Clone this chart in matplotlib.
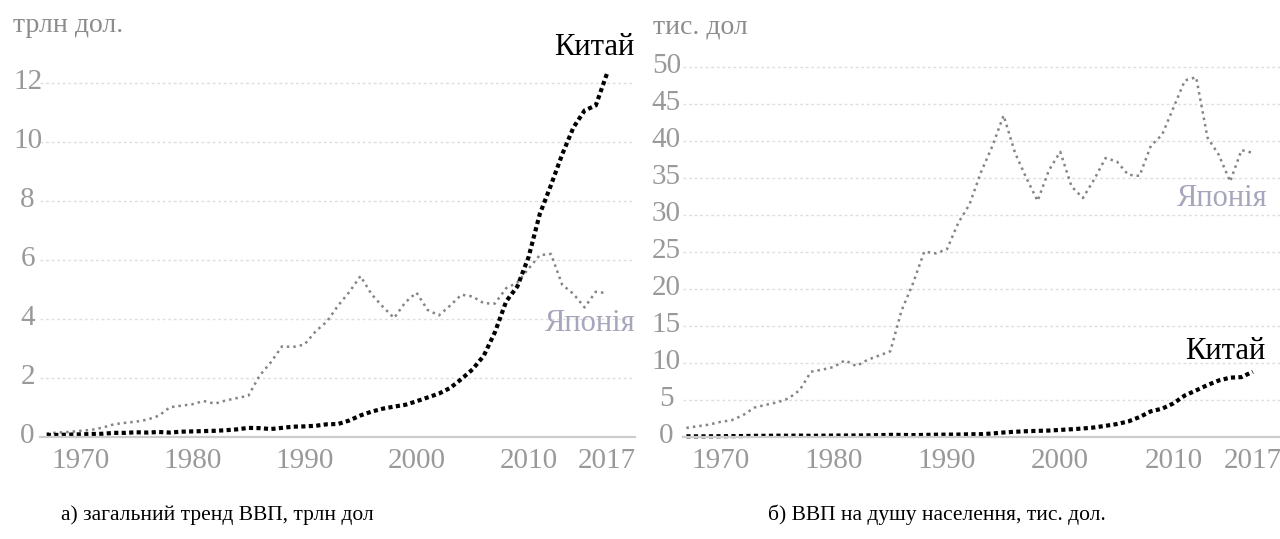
import matplotlib.pyplot as plt
import matplotlib.transforms as mtransforms
import numpy as np

years = np.arange(1967, 2018)

# ВВП, трлн дол.
gdp_china = [0.07, 0.07, 0.08, 0.09, 0.10, 0.11, 0.14, 0.14, 0.16, 0.15,
             0.17, 0.15, 0.18, 0.19, 0.20, 0.21, 0.23, 0.26, 0.31, 0.30,
             0.27, 0.31, 0.35, 0.36, 0.38, 0.43, 0.44, 0.56, 0.73, 0.86,
             0.96, 1.03, 1.09, 1.21, 1.34, 1.47, 1.66, 1.96, 2.29, 2.75,
             3.55, 4.59, 5.10, 6.09, 7.55, 8.53, 9.57, 10.48, 11.06, 11.23,
             12.31]
gdp_japan = [0.12, 0.15, 0.17, 0.21, 0.24, 0.32, 0.43, 0.48, 0.52, 0.59,
             0.72, 1.01, 1.06, 1.11, 1.22, 1.13, 1.24, 1.32, 1.40, 2.08,
             2.53, 3.07, 3.05, 3.13, 3.58, 3.91, 4.45, 4.91, 5.45, 4.83,
             4.41, 4.03, 4.56, 4.89, 4.30, 4.12, 4.45, 4.82, 4.76, 4.53,
             4.52, 5.04, 5.23, 5.70, 6.16, 6.20, 5.16, 4.85, 4.39, 4.92,
             4.87]

# ВВП на душу населення, тис. дол.
pc_china = [0.10, 0.09, 0.10, 0.11, 0.12, 0.13, 0.16, 0.16, 0.18, 0.17,
            0.19, 0.16, 0.18, 0.19, 0.20, 0.20, 0.22, 0.25, 0.29, 0.28,
            0.25, 0.28, 0.31, 0.32, 0.33, 0.37, 0.38, 0.47, 0.61, 0.71,
            0.78, 0.83, 0.87, 0.96, 1.05, 1.15, 1.29, 1.51, 1.75, 2.10,
            2.69, 3.47, 3.83, 4.55, 5.61, 6.30, 7.02, 7.64, 8.02, 8.09,
            8.82]
pc_japan = [1.23, 1.45, 1.67, 2.04, 2.27, 2.95, 3.97, 4.35, 4.67, 5.20,
            6.33, 8.82, 9.10, 9.46, 10.36, 9.58, 10.43, 11.00, 11.58, 17.11,
            20.75, 25.05, 24.81, 25.36, 28.93, 31.46, 35.77, 39.27, 43.44, 38.44,
            35.02, 31.90, 36.03, 38.53, 33.85, 32.29, 34.81, 37.69, 37.22, 35.43,
            35.28, 39.34, 40.86, 44.51, 48.17, 48.60, 40.45, 38.11, 34.52, 38.76,
            38.39]

year_ticks = [1970, 1980, 1990, 2000, 2010, 2017]
left_ticks = [0, 2, 4, 6, 8, 10, 12]
right_ticks = [0, 5, 10, 15, 20, 25, 30, 35, 40, 45, 50]

plt.rcParams['font.family'] = ['Liberation Serif', 'DejaVu Serif']

W, H = 1280, 539
fig = plt.figure(figsize=(W / 100, H / 100), dpi=100)
ax1 = fig.add_axes([40 / W, (H - 437) / H, 595 / W, (437 - 65) / H])
ax2 = fig.add_axes([683 / W, (H - 437) / H, 597 / W, (437 - 61) / H])

tick_grey = "#999999"
japan_col = "#858585"
japan_lab = "#a6a6bc"

# tick labels sit a few pixels above their grid lines in the original
lift = mtransforms.ScaledTranslation(0, 4 / 100, fig.dpi_scale_trans)


def style_axis(ax, xlim, ylim, yticks, ypad):
    ax.set_xlim(*xlim)
    ax.set_ylim(*ylim)
    ax.set_xticks(year_ticks)
    ax.set_yticks(yticks)
    for s in ["top", "right", "left"]:
        ax.spines[s].set_visible(False)
    ax.spines["bottom"].set_color("#cccccc")
    ax.spines["bottom"].set_linewidth(1.6)
    ax.tick_params(axis="both", length=0, labelsize=21, labelcolor=tick_grey)
    ax.tick_params(axis="x", pad=8)
    ax.tick_params(axis="y", pad=ypad)
    for lab in ax.get_yticklabels():
        lab.set_horizontalalignment("center")
        lab.set_transform(lab.get_transform() + lift)
    ax.grid(axis="y", color="#dedede", lw=1, ls=(0, (2, 2)))
    ax.set_axisbelow(True)


style_axis(ax1, (1966.4, 2019.5), (0, 12.6), left_ticks, 9)
style_axis(ax2, (1966.7, 2019.4), (0, 50.8), right_ticks, 12)

# left panel: total GDP
ax1.plot(years, gdp_japan, color=japan_col, lw=1.8, ls=(0, (1, 1.6)), clip_on=False)
ax1.plot(years, gdp_china, color="black", lw=3, ls=(0, (1, 0.8)), clip_on=False)
ax1.text(2015.9, 13.2, "Китай", fontsize=22, color="black", ha="center", va="center")
ax1.text(2015.5, 3.86, "Японія", fontsize=22, color=japan_lab, ha="center", va="center")
ax1.text(-0.045, 1.107, "трлн дол.", transform=ax1.transAxes, fontsize=20,
         color="#8c8c8c", ha="left", va="center")

# right panel: GDP per capita
ax2.plot(years, pc_japan, color=japan_col, lw=1.8, ls=(0, (1, 1.6)), clip_on=False)
ax2.plot(years, pc_china, color="black", lw=3, ls=(0, (1, 0.8)), clip_on=False)
ax2.text(2014.6, 11.5, "Китай", fontsize=22, color="black", ha="center", va="center")
ax2.text(2014.3, 32.2, "Японія", fontsize=22, color=japan_lab, ha="center", va="center")
ax2.text(-0.05, 1.09, "тис. дол", transform=ax2.transAxes, fontsize=20,
         color="#8c8c8c", ha="left", va="center")

fig.text(217 / W, 1 - 515 / H, "а) загальний тренд ВВП, трлн дол", fontsize=15.5,
         ha="center", va="center")
fig.text(937 / W, 1 - 515 / H, "б) ВВП на душу населення, тис. дол.", fontsize=15.5,
         ha="center", va="center")

fig.savefig("out.png", dpi=100)
